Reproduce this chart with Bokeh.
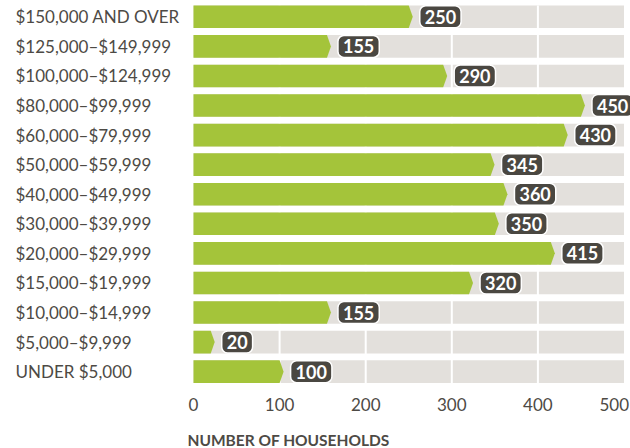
from bokeh.plotting import figure
from bokeh.models import Range1d, ColumnDataSource
from bokeh.core.properties import value
from bokeh.embed import file_html
from bokeh.resources import INLINE

# ---- data ----
categories = ["$150,000 AND OVER", "$125,000–$149,999", "$100,000–$124,999",
              "$80,000–$99,999", "$60,000–$79,999", "$50,000–$59,999",
              "$40,000–$49,999", "$30,000–$39,999", "$20,000–$29,999",
              "$15,000–$19,999", "$10,000–$14,999", "$5,000–$9,999",
              "UNDER $5,000"]
households = [250, 155, 290, 450, 430, 345, 360, 350, 415, 320, 155, 20, 100]
x_ticks = [0, 100, 200, 300, 400, 500]
x_title = "NUMBER OF HOUSEHOLDS"

# ---- layout / style (pixels) ----
W, H = 630, 448
ZERO_PX = 193          # canvas px of value 0
PX_PER_UNIT = 0.861
ROW_PX = 29.57
BAR_FRAC = 0.765
TOP_PAD_PX = 5
LABEL_PX = 15
TIP_PX = 4
TICK_LABEL_Y_PX = 404
TITLE_Y_PX = 439
TITLE_X_PX = 187
GREEN = "#a4c43a"
GRAY = "#e3e0dc"
DARK = "#4a4741"
TEXT = "#4d4a45"
FONT = "Lato"

n = len(categories)
x_start = -ZERO_PX / PX_PER_UNIT
x_end = (W - ZERO_PX) / PX_PER_UNIT
y_top = (n - 1) + (TOP_PAD_PX + BAR_FRAC * ROW_PX / 2) / ROW_PX
y_bot = y_top - H / ROW_PX


def px_x(px):
    return (px - ZERO_PX) / PX_PER_UNIT


def px_y(py):
    return y_top - py / ROW_PX


p = figure(width=W, height=H, title=None,
           x_range=Range1d(x_start, x_end), y_range=Range1d(y_bot, y_top),
           output_backend="svg", toolbar_location=None,
           x_axis_location=None, y_axis_location=None,
           min_border=0, outline_line_color=None,
           background_fill_color="white", border_fill_color="white")
p.xgrid.visible = False
p.ygrid.visible = False

ys = [n - 1 - i for i in range(n)]
hh = BAR_FRAC / 2
tip = TIP_PX / PX_PER_UNIT

# gray background bars
p.hbar(y=ys, left=x_ticks[0], right=x_ticks[-1], height=BAR_FRAC,
       fill_color=GRAY, line_color=None)

# white grid lines
inner = x_ticks[1:-1]
p.segment(x0=inner, x1=inner, y0=[min(ys) - hh] * len(inner),
          y1=[max(ys) + hh] * len(inner), line_color="white", line_width=2)

# green bars with pointed end
bx = [[0, v, v + tip, v, 0] for v in households]
by = [[y - hh, y - hh, y, y + hh, y + hh] for y in ys]
p.patches(xs=bx, ys=by, fill_color=GREEN, line_color=None)

# value pills
src = ColumnDataSource(dict(x=households, y=ys, t=[str(v) for v in households]))
p.text(x="x", y="y", text="t", source=src, x_offset=11,
       text_align="left", text_baseline="middle", text_color="white",
       text_font=value(FONT), text_font_style="bold", text_font_size="18px",
       background_fill_color=DARK, border_line_color="white",
       border_line_width=1.5, border_radius=6,
       padding=dict(left=5, right=5, top=4, bottom=4))

# category labels (left aligned)
p.text(x=[px_x(LABEL_PX)] * n, y=ys, text=categories, text_align="left",
       text_baseline="middle", text_color=TEXT, text_font=value(FONT),
       text_font_size="17px")

# x tick labels
tick_text = [str(t) for t in x_ticks]
p.text(x=x_ticks[:-1], y=[px_y(TICK_LABEL_Y_PX)] * (len(x_ticks) - 1),
       text=tick_text[:-1], text_align="center", text_baseline="middle",
       text_color=TEXT, text_font=value(FONT), text_font_size="17px")
p.text(x=x_ticks[-1:], y=[px_y(TICK_LABEL_Y_PX)], text=tick_text[-1:],
       x_offset=5, text_align="right", text_baseline="middle",
       text_color=TEXT, text_font=value(FONT), text_font_size="17px")

# axis title
p.text(x=[px_x(TITLE_X_PX)], y=[px_y(TITLE_Y_PX)], text=[x_title],
       text_align="left", text_baseline="middle", text_color=TEXT,
       text_font=value(FONT), text_font_style="bold", text_font_size="15.5px")

open("out.html", "w").write(file_html(p, INLINE))
